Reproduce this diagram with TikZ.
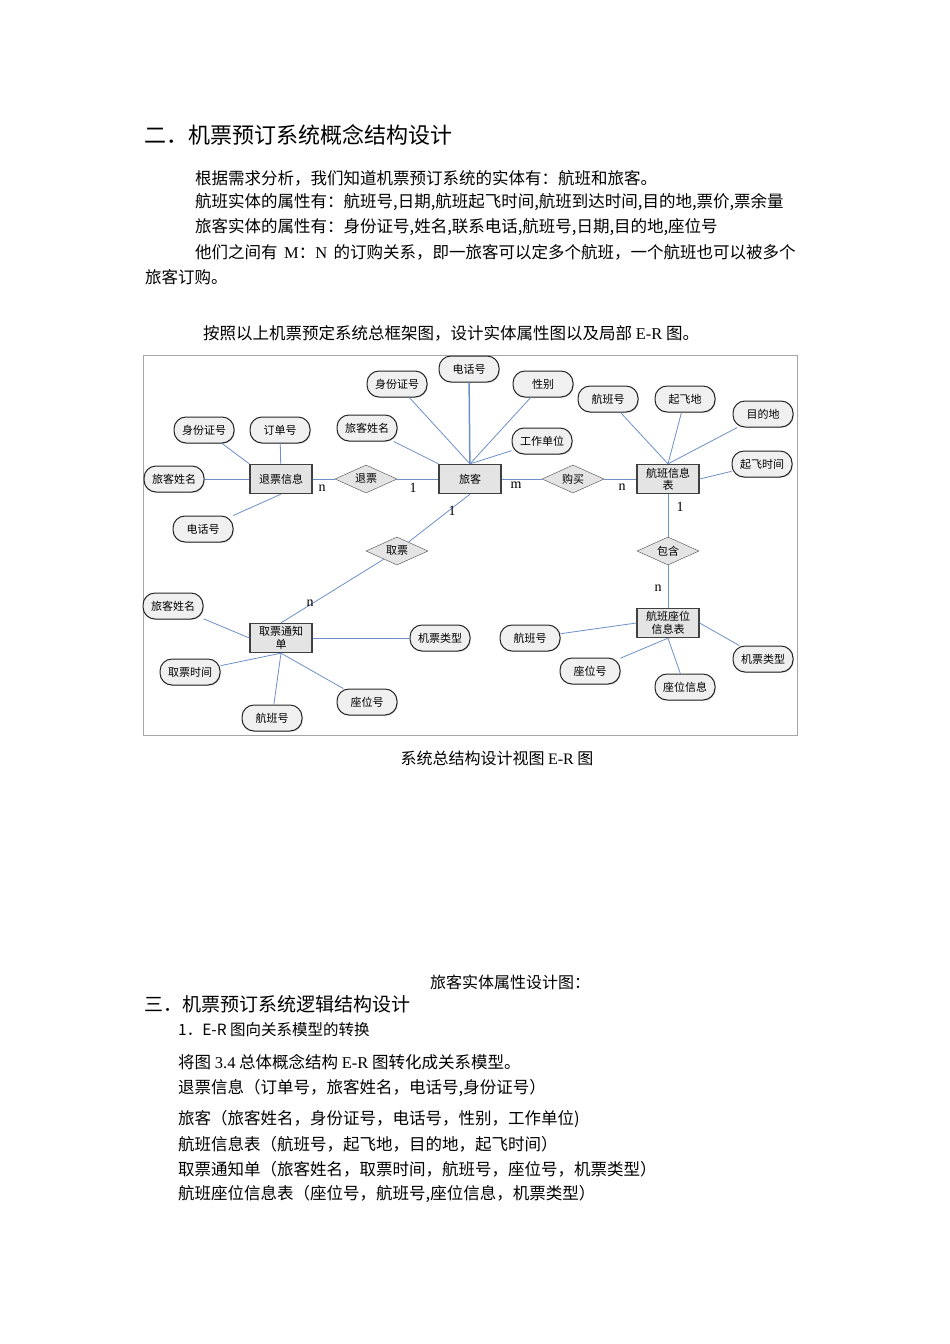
\documentclass[tikz,border=0pt]{standalone}
\usepackage{fontspec}
\setmainfont{Liberation Serif}
\newfontfamily\cjk{Noto Sans CJK SC}
\usetikzlibrary{shapes.geometric,shadows}
\definecolor{conblue}{HTML}{6F8FC9}
\definecolor{attrfill}{HTML}{F0F0F0}
\definecolor{entfill}{HTML}{E4E4E4}
\newcommand{\erfont}{\cjk\fontsize{11}{12.5}\selectfont}
\newcommand{\bodyfont}{\cjk\fontsize{16.5}{20}\selectfont}

\begin{document}
\begin{tikzpicture}[x=1pt, y=-1pt,
  txt/.style={anchor=west, inner sep=0pt, font=\bodyfont},
  attr/.style={draw=black!85, line width=1pt, fill=attrfill, rounded corners=12pt, minimum width=60pt, minimum height=26pt,
    inner sep=1pt, font=\erfont, drop shadow={shadow xshift=0.8pt, shadow yshift=-0.8pt, opacity=0.35}},
  ent/.style={draw=black!75, fill=entfill, line width=1.3pt, minimum width=62pt, minimum height=29pt,
    align=center, inner sep=1pt, font=\erfont},
  rel/.style={diamond, aspect=2.1, draw=black!70, fill=entfill, minimum width=62pt, minimum height=28pt,
    inner sep=0pt, font=\erfont},
  ln/.style={draw=conblue, line width=0.8pt},
  card/.style={inner sep=0pt, font=\rmfamily\fontsize{14}{14}\selectfont}]

\fill[white] (0,0) rectangle (950,1344);
\useasboundingbox (0,0) rectangle (950,1344);

% --- section two: text ---
\node[txt, font=\cjk\fontsize{22}{24}\selectfont] (sec2) at (144,135) {二．机票预订系统概念结构设计};
\node[txt] (p1) at (195,178) {根据需求分析，我们知道机票预订系统的实体有：航班和旅客。};
\node[txt] (p2) at (195,202) {航班实体的属性有：航班号,日期,航班起飞时间,航班到达时间,目的地,票价,票余量};
\node[txt] (p3) at (195,227) {旅客实体的属性有：身份证号,姓名,联系电话,航班号,日期,目的地,座位号};
\node[txt] (p4) at (195,252) {他们之间有 \,{\rmfamily M}：{\rmfamily N}\, 的订购关系，即一旅客可以定多个航班，一个航班也可以被多个};
\node[txt] (p5) at (145,277) {旅客订购。};
\node[txt] (p6) at (203,333) {按照以上机票预定系统总框架图，设计实体属性图以及局部 {\rmfamily E-R} 图。};

% --- E-R diagram ---
\draw[black!35, line width=0.8pt] (143,355) rectangle (797,735);

% entities and relations
\node[ent] (refinfo) at (281,479) {退票信息};
\node[ent] (trav)    at (470,479) {旅客};
\node[ent] (flight)  at (668,479) {航班信息\\表};
\node[ent] (notice)  at (281,638) {取票通知\\单};
\node[ent] (seat)    at (668,623) {航班座位\\信息表};
\node[rel] (refund)  at (366,479) {退票};
\node[rel] (buy)     at (573,479) {购买};
\node[rel] (take)    at (397,551) {取票};
\node[rel] (contain) at (668,551) {包含};

% attributes
\node[attr] (rid)    at (204,430) {身份证号};
\node[attr] (rorder) at (280,430) {订单号};
\node[attr] (rname)  at (174,479) {旅客姓名};
\node[attr] (rtel)   at (203,529) {电话号};
\node[attr] (tname)  at (367,428) {旅客姓名};
\node[attr] (tid)    at (397,384) {身份证号};
\node[attr] (ttel)   at (469,369) {电话号};
\node[attr] (tsex)   at (543,384) {性别};
\node[attr] (twork)  at (542,441) {工作单位};
\node[attr] (fno)    at (608,399) {航班号};
\node[attr] (ffrom)  at (685,399) {起飞地};
\node[attr] (fto)    at (763,414) {目的地};
\node[attr] (ftime)  at (762,464) {起飞时间};
\node[attr] (nname)  at (173,606) {旅客姓名};
\node[attr] (ntype)  at (440,638) {机票类型};
\node[attr] (ntime)  at (190,672) {取票时间};
\node[attr] (nno)    at (272,718) {航班号};
\node[attr] (nseat)  at (367,702) {座位号};
\node[attr] (sno)    at (530,638) {航班号};
\node[attr] (sseat)  at (590,671) {座位号};
\node[attr] (sinfo)  at (685,687) {座位信息};
\node[attr] (stype)  at (763,659) {机票类型};

% connectors
\draw[ln] (refinfo) -- (refund) -- (trav);
\draw[ln] (trav) -- (buy) -- (flight);
\draw[ln] (trav.south) -- (take) -- (notice.north);
\draw[ln] (flight) -- (contain) -- (seat);
\draw[ln] (rid) -- (refinfo.north west);
\draw[ln] (rorder) -- (refinfo);
\draw[ln] (rname) -- (refinfo);
\draw[ln] (rtel) -- (refinfo.south);
\draw[ln] (tname) -- (trav.north west);
\draw[ln] (tid) -- (trav.north);
\draw[ln, line width=1.5pt] (ttel) -- (trav);
\draw[ln] (tsex) -- (trav.north);
\draw[ln] (twork) -- (trav.north);
\draw[ln] (fno) -- (flight.north);
\draw[ln] (ffrom) -- (flight.north);
\draw[ln] (fto) -- (flight.north);
\draw[ln] (ftime) -- (flight.east);
\draw[ln] (nname) -- (notice.west);
\draw[ln] (ntype) -- (notice);
\draw[ln] (ntime) -- (notice.south);
\draw[ln] (nno) -- (notice.south);
\draw[ln] (nseat) -- (notice.south);
\draw[ln] (sno) -- (seat.west);
\draw[ln] (sseat) -- (seat.south);
\draw[ln] (sinfo) -- (seat.south);
\draw[ln] (stype) -- (seat.east);

% cardinalities
\node[card] (c1) at (322,488) {n};
\node[card] (c2) at (413,488) {1};
\node[card] (c3) at (516,485) {m};
\node[card] (c4) at (622,487) {n};
\node[card] (c5) at (452,511) {1};
\node[card] (c6) at (680,507) {1};
\node[card] (c7) at (310,603) {n};
\node[card] (c8) at (658,588) {n};

\node[font=\cjk\fontsize{16}{18}\selectfont] (cap) at (497,758) {系统总结构设计视图 {\rmfamily E-R} 图};

% --- section three: text ---
\node[txt, font=\cjk\fontsize{16}{18}\selectfont] (cap2) at (430,982) {旅客实体属性设计图：};
\node[txt, font=\cjk\fontsize{19}{21}\selectfont] (sec3) at (144,1004) {三．机票预订系统逻辑结构设计};
\node[txt, font=\cjk\fontsize{15.5}{18}\selectfont] (sub1) at (178,1030) {1．E-R 图向关系模型的转换};
\node[txt] (q1) at (178,1062) {将图 {\rmfamily 3.4} 总体概念结构 {\rmfamily E-R} 图转化成关系模型。};
\node[txt] (q2) at (178,1088) {退票信息（订单号，旅客姓名，电话号,身份证号）};
\node[txt] (q3) at (178,1119) {旅客（旅客姓名，身份证号，电话号，性别，工作单位)};
\node[txt] (q4) at (178,1144) {航班信息表（航班号，起飞地，目的地，起飞时间）};
\node[txt] (q5) at (178,1169) {取票通知单（旅客姓名，取票时间，航班号，座位号，机票类型）};
\node[txt] (q6) at (178,1194) {航班座位信息表（座位号，航班号,座位信息，机票类型）};
\end{tikzpicture}
\end{document}
